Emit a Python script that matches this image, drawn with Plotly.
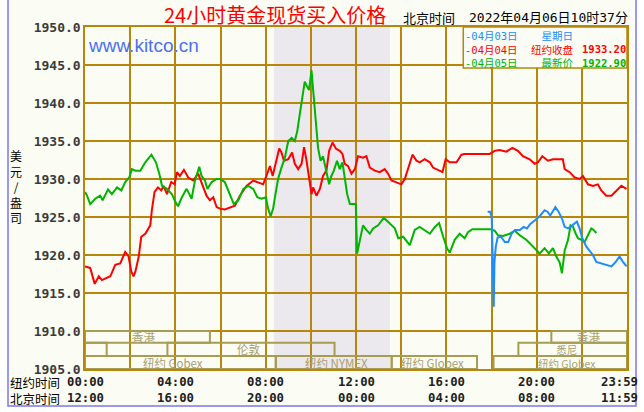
import plotly.graph_objects as go

# ---------------- data ----------------
red_hours = [0, 0.23, 0.43, 0.61, 0.75, 1.12, 1.34, 1.56, 1.78, 1.93, 2.05, 2.15, 2.23, 2.38, 2.49, 2.67, 2.89,
             2.96, 3.08, 3.23, 3.38, 3.48, 3.63, 3.82, 3.97, 4.07, 4.2, 4.38, 4.57, 4.79, 5.01, 5.16, 5.38, 5.53,
             5.68, 5.83, 5.97, 6.19, 6.42, 6.64, 6.86, 7.15, 7.45, 7.67, 7.89, 8.07, 8.19, 8.31, 8.48, 8.6, 8.7,
             8.81, 9.0, 9.17, 9.29, 9.44, 9.59, 9.7, 9.81, 9.92, 10.03, 10.1, 10.25, 10.4, 10.54, 10.69, 10.81,
             10.96, 11.11, 11.28, 11.4, 11.5, 11.65, 11.8, 11.95, 12.09, 12.31, 12.46, 12.61, 12.83, 13.05,
             13.27, 13.42, 13.57, 13.79, 14.01, 14.16, 14.31, 14.5, 14.68, 14.82, 15.04, 15.27, 15.41, 15.63,
             15.83, 15.97, 16.15, 16.45, 16.67, 16.81, 17.92, 18.14, 18.36, 18.66, 18.92, 19.17, 19.39, 19.69,
             19.91, 20.06, 20.25, 20.5, 20.72, 20.94, 21.16, 21.24, 21.46, 21.68, 21.9, 22.05, 22.27, 22.49,
             22.71, 22.86, 23.08, 23.31, 23.53, 23.75, 23.98]
red_prices = [1918.5, 1918.3, 1916.2, 1917.2, 1916.7, 1917.2, 1918.7, 1918.9, 1920.4, 1919.8, 1917.8, 1917.2,
              1917.8, 1919.8, 1922.4, 1922.8, 1923.9, 1925.9, 1928.3, 1928.9, 1928.5, 1929.1, 1928.0, 1929.6,
              1929.3, 1930.9, 1930.4, 1931.2, 1930.2, 1929.8, 1930.7, 1929.6, 1927.8, 1927.2, 1927.6, 1926.3,
              1926.1, 1926.0, 1926.3, 1926.5, 1927.8, 1929.1, 1929.8, 1929.6, 1929.3, 1930.7, 1931.7, 1930.4,
              1932.4, 1934.0, 1933.5, 1932.4, 1932.6, 1933.5, 1932.0, 1931.3, 1932.0, 1934.2, 1932.4, 1930.2,
              1928.0, 1928.9, 1927.8, 1928.7, 1930.4, 1931.1, 1933.7, 1934.8, 1934.0, 1933.7, 1933.3, 1932.0,
              1931.7, 1930.7, 1931.3, 1933.0, 1932.8, 1933.0, 1931.5, 1931.1, 1930.9, 1931.3, 1930.7, 1929.8,
              1929.6, 1929.3, 1930.0, 1931.5, 1933.2, 1932.4, 1932.2, 1932.6, 1932.2, 1931.5, 1931.2, 1930.9,
              1932.6, 1932.2, 1932.2, 1933.2, 1933.3, 1933.3, 1933.7, 1933.8, 1933.6, 1934.1, 1933.7, 1933.0,
              1932.6, 1932.0, 1932.2, 1933.0, 1932.4, 1932.6, 1932.6, 1932.6, 1931.3, 1930.9, 1930.2, 1930.0,
              1930.4, 1929.3, 1929.1, 1929.3, 1928.5, 1927.8, 1927.8, 1928.5, 1929.1, 1928.7]

green_hours = [0, 0.09, 0.23, 0.45, 0.67, 0.78, 1.02, 1.19, 1.42, 1.61, 1.78, 1.96, 2.08, 2.23, 2.45, 2.67, 2.94,
               3.14, 3.29, 3.41, 3.63, 3.85, 4.0, 4.12, 4.26, 4.49, 4.57, 4.72, 4.87, 5.06, 5.16, 5.31, 5.42,
               5.61, 5.83, 5.97, 6.19, 6.42, 6.59, 6.79, 7.01, 7.23, 7.45, 7.63, 7.82, 8.01, 8.11, 8.22, 8.33,
               8.45, 8.55, 8.7, 8.85, 9.0, 9.15, 9.29, 9.4, 9.51, 9.63, 9.73, 9.83, 9.92, 10.03, 10.1, 10.22,
               10.32, 10.43, 10.54, 10.66, 10.81, 10.91, 11.02, 11.16, 11.28, 11.4, 11.5, 11.61, 11.73, 11.87,
               11.99, 12.05, 12.17, 12.31, 12.46, 12.61, 12.76, 12.98, 13.23, 13.5, 13.72, 13.87, 14.09, 14.38,
               14.6, 14.82, 15.04, 15.27, 15.49, 15.68, 15.86, 16.03, 16.15, 16.37, 16.59, 16.81, 16.96, 17.15,
               17.94, 18.14, 18.29, 18.51, 18.81, 19.03, 19.25, 19.54, 19.84, 20.13, 20.35, 20.54, 20.72, 20.87,
               21.02, 21.12, 21.24, 21.39, 21.5, 21.61, 21.73, 21.83, 21.98, 22.12, 22.27, 22.42, 22.52, 22.64]
green_prices = [1928.3, 1927.8, 1926.7, 1927.4, 1927.8, 1927.2, 1928.6, 1928.0, 1928.9, 1928.5, 1929.6, 1930.2,
                1931.3, 1931.1, 1931.1, 1932.2, 1933.2, 1932.2, 1930.7, 1929.1, 1928.7, 1928.0, 1927.0, 1926.4,
                1927.4, 1928.7, 1928.3, 1927.4, 1929.8, 1931.6, 1930.4, 1929.8, 1928.7, 1929.6, 1930.0, 1930.0,
                1929.6, 1928.0, 1926.7, 1927.2, 1928.7, 1929.1, 1928.7, 1927.6, 1927.4, 1927.6, 1926.1, 1925.1,
                1926.1, 1928.3, 1930.0, 1931.5, 1932.8, 1935.0, 1935.4, 1935.0, 1936.3, 1938.5, 1940.6, 1942.8,
                1942.2, 1941.7, 1944.3, 1941.5, 1937.6, 1934.1, 1932.4, 1933.0, 1931.5, 1929.3, 1930.4, 1931.1,
                1932.4, 1931.3, 1932.2, 1930.2, 1928.0, 1926.7, 1926.7, 1926.7, 1920.2, 1921.8, 1923.9, 1923.3,
                1922.8, 1923.5, 1923.9, 1924.9, 1924.1, 1923.5, 1922.2, 1922.4, 1921.3, 1923.3, 1923.7, 1923.3,
                1922.8, 1923.7, 1924.2, 1922.4, 1920.9, 1920.3, 1922.0, 1922.8, 1922.2, 1923.0, 1923.4, 1923.4,
                1923.2, 1922.6, 1922.5, 1922.8, 1923.2, 1922.6, 1922.0, 1921.1, 1920.2, 1920.9, 1920.2, 1920.9,
                1919.8, 1919.0, 1917.6, 1920.6, 1922.0, 1923.9, 1923.7, 1922.8, 1922.2, 1922.0, 1921.7, 1922.6,
                1923.5, 1923.3, 1922.9]

blue_hours = [17.83, 17.94, 18.01, 18.05, 18.08, 18.1, 18.13, 18.19, 18.27, 18.42, 18.59, 18.74, 18.89, 19.04,
              19.26, 19.42, 19.57, 19.72, 19.94, 20.16, 20.35, 20.48, 20.6, 20.83, 20.97, 21.12, 21.24, 21.39,
              21.58, 21.78, 21.9, 22.02, 22.2, 22.35, 22.49, 22.64, 22.86, 23.08, 23.31, 23.5, 23.67, 23.82,
              23.98]
blue_prices = [1925.7, 1925.7, 1924.9, 1921.1, 1918.0, 1913.2, 1919.0, 1921.1, 1922.3, 1922.4, 1921.7, 1921.7,
               1922.8, 1923.3, 1923.3, 1923.7, 1923.5, 1924.1, 1924.6, 1925.2, 1925.9, 1925.7, 1925.2, 1926.3,
               1925.7, 1924.8, 1923.7, 1923.5, 1923.9, 1924.4, 1923.5, 1922.2, 1921.1, 1920.6, 1920.0, 1919.1,
               1918.9, 1918.7, 1918.5, 1919.1, 1919.8, 1919.1, 1918.5]

y_ticks = [1905, 1910, 1915, 1920, 1925, 1930, 1935, 1940, 1945, 1950]
y_tick_labels = ["1905.0", "1910.0", "1915.0", "1920.0", "1925.0", "1930.0", "1935.0", "1940.0", "1945.0", "1950.0"]
x_label_hours = [0, 4, 8, 12, 16, 20, 24]
ny_time_labels = ["00:00", "04:00", "08:00", "12:00", "16:00", "20:00", "23:59"]
bj_time_labels = ["12:00", "16:00", "20:00", "00:00", "04:00", "08:00", "11:59"]

legend_dates = ["-04月03日", "-04月04日", "-04月05日"]
legend_names = ["星期日", "纽约收盘", "最新价"]
legend_values = ["1933.20", "1922.90"]   # rows 2 and 3

# market sessions: (start hour, end hour, row)  row 0 = top
session_start = [0, 20.65, 0, 3.65, 19.19, 0, 8.45, 13.58, 18.09]
session_end = [5.53, 24, 0.96, 11.05, 24, 8.45, 13.58, 17.36, 24]
session_row = [0, 0, 1, 1, 1, 2, 2, 2, 2]
session_labels = ["香港", "香港", "伦敦", "纽约 Gobex", "纽约 NYMEX", "纽约 Globex"]
session_label_hours = [2.6, 22.33, 7.28, 3.9, 11.13, 15.4]
session_label_rows = [0, 0, 1, 2, 2, 2]
stacked_session_labels = ["悉尼", "纽约 Globex"]   # rows 1 and 2, right side
stacked_session_hour = 21.35
row_edges = [1910, 1908.47, 1906.7, 1905]

nymex_start, nymex_end = 8.36, 13.5

# ---------------- styles ----------------
GRID = "#B8860B"
BG = "#FBFDF4"
SESS = "#A89C52"
SESS_TXT = "#A8A070"
RED = "#FF0000"
GREEN = "#00B400"
BLUE = "#1E8CFF"
MONO = "DejaVu Sans Mono, Noto Sans CJK SC"
CJK = "Noto Sans CJK SC, DejaVu Sans Mono"

W, H = 644, 412
L, R, T, B = 85, 17, 27, 43
PW, PH = W - L - R, H - T - B


def px(x):
    return (x - L) / PW


def py(y):
    return (H - B - y) / PH


fig = go.Figure()
fig.add_trace(go.Scatter(x=red_hours, y=red_prices, mode="lines", line=dict(color=RED, width=2), hoverinfo="skip"))
fig.add_trace(go.Scatter(x=green_hours, y=green_prices, mode="lines", line=dict(color=GREEN, width=2), hoverinfo="skip"))
fig.add_trace(go.Scatter(x=blue_hours, y=blue_prices, mode="lines", line=dict(color=BLUE, width=2), hoverinfo="skip"))

shapes = []
# outer frame
shapes.append(dict(type="rect", xref="paper", yref="paper", x0=px(8), x1=px(636), y0=py(406), y1=py(-6),
                   fillcolor=BG, line=dict(color="#7878F0", width=1.5), layer="below"))
# NYMEX gray band
shapes.append(dict(type="rect", xref="x", yref="y", x0=nymex_start, x1=nymex_end, y0=1905, y1=1950,
                   fillcolor="#EBE8EE", line=dict(width=0), layer="below"))
# session boxes
for s, e, r in zip(session_start, session_end, session_row):
    shapes.append(dict(type="rect", xref="x", yref="y", x0=s, x1=e, y0=row_edges[r + 1], y1=row_edges[r],
                       fillcolor="rgba(0,0,0,0)", line=dict(color=SESS, width=2), layer="above"))
# legend box
shapes.append(dict(type="rect", xref="x", yref="y", x0=16.75, x1=24, y0=1944.6, y1=1950,
                   fillcolor=BG, line=dict(color=GRID, width=1.5), layer="above"))


def txt(x, y, text, font, xref="paper", yref="paper", xanchor="center", xshift=0, align="center"):
    return dict(x=x, y=y, xref=xref, yref=yref, text=text, showarrow=False, xanchor=xanchor,
                yanchor="middle", xshift=xshift, font=font, borderpad=0, align=align)


def colored(lines, colors, bold=False):
    out = []
    for s, c in zip(lines, colors):
        s = "<b>" + s + "</b>" if bold else s
        out.append('<span style="color:%s">%s</span>' % (c, s))
    return "<br>".join(out)


ann = []
# session labels
sess_font = dict(family="Noto Sans CJK SC, Liberation Sans", size=11.5, color=SESS_TXT)
for lab, hx, r in zip(session_labels, session_label_hours, session_label_rows):
    ann.append(txt(hx, (row_edges[r] + row_edges[r + 1]) / 2, lab, sess_font, xref="x", yref="y"))
ann.append(txt(stacked_session_hour, (row_edges[1] + row_edges[3]) / 2 - 0.05, "<br>".join(stacked_session_labels),
               dict(family="Noto Sans CJK SC, Liberation Sans", size=10.5, color=SESS_TXT), xref="x", yref="y"))
# title
ann.append(txt(px(275), py(15), "24小时黄金现货买入价格", dict(family="Noto Sans CJK SC", size=20, color=RED)))
ann.append(txt(px(429), py(17), "北京时间", dict(family=CJK, size=13, color="#000000")))
ann.append(txt(px(468), py(17), "2022年04月06日10时37分", dict(family=MONO, size=13, color="#000000"), xanchor="left"))
# watermark
ann.append(txt(px(87), py(45), "www.kitco.cn", dict(family="Liberation Sans, Arial", size=19, color="#4A70F0"),
               xanchor="left"))
# y title stacked (single text block)
ann.append(txt(px(16), py(186), "美<br>元<br>/<br>盎<br>司", dict(family=CJK, size=12, color="#000000")))
# x labels: two rows as one block per column
ann.append(txt(px(35), py(390), "纽约时间<br>北京时间", dict(family=CJK, size=12.5, color="#000000")))
for hx, t1, t2 in zip(x_label_hours, ny_time_labels, bj_time_labels):
    shift = -8 if hx == 24 else 0
    ann.append(txt(hx, py(390), "<b>" + t1 + "</b><br><b>" + t2 + "</b>",
                   dict(family=MONO, size=12.3, color="#202020"), xref="x", xshift=shift))
# legend texts (three columns, one text block each)
leg_colors = [BLUE, RED, GREEN]
ann.append(txt(px(464), py(49), colored(legend_dates, leg_colors), dict(family=MONO, size=10.5, color=BLUE),
               xanchor="left", align="left"))
ann.append(txt(px(575), py(49), colored(legend_names, leg_colors), dict(family=CJK, size=10.5, color=BLUE),
               xanchor="right", align="right"))
ann.append(txt(px(627), py(55.8), colored(legend_values, leg_colors[1:], bold=True),
               dict(family=MONO, size=10.5, color=RED), xanchor="right", align="right"))

fig.update_layout(
    width=W, height=H, margin=dict(l=L, r=R, t=T, b=B, pad=0),
    paper_bgcolor="#FFFFFF", plot_bgcolor="rgba(0,0,0,0)",
    showlegend=False, shapes=shapes, annotations=ann,
    xaxis=dict(range=[0, 24], tickvals=list(range(0, 25, 2)), showticklabels=False, ticks="",
               showgrid=True, gridcolor=GRID, gridwidth=1.5, zeroline=False,
               showline=True, mirror=True, linecolor=GRID, linewidth=1.5, fixedrange=True),
    yaxis=dict(range=[1905, 1950], tickvals=y_ticks, ticktext=["<b>" + t + "</b>" for t in y_tick_labels],
               ticks="", tickfont=dict(family=MONO, size=13, color="#3A3A3A"),
               showgrid=True, gridcolor=GRID, gridwidth=1.5, zeroline=False,
               showline=True, mirror=True, linecolor=GRID, linewidth=1.5, fixedrange=True),
)

fig.write_html("out.html", config={"displayModeBar": False},
               post_script="document.body.style.margin='0';document.body.style.overflow='hidden';")
